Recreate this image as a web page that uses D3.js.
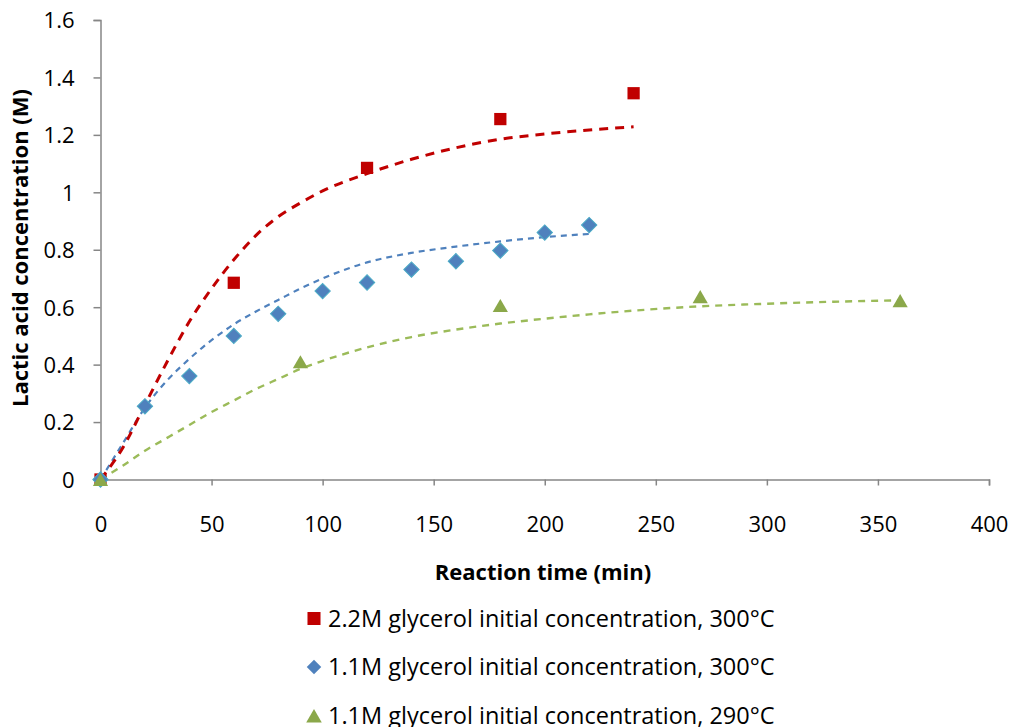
<!DOCTYPE html>
<html>
<head>
<meta charset="utf-8">
<script src="https://cdn.jsdelivr.net/npm/d3@7"></script>
<style>
  body { margin: 0; background: #fff; }
  svg { display: block; font-family: "Open Sans", Lato, sans-serif; }
</style>
</head>
<body>
<svg id="chart" width="1011" height="727"></svg>
<script>
// Measured points (time in min, lactic acid in M)
const redTime = [0, 60, 120, 180, 240];
const redConc = [0, 0.685, 1.085, 1.255, 1.345];

const blueTime = [0, 20, 40, 60, 80, 100, 120, 140, 160, 180, 200, 220];
const blueConc = [0, 0.255, 0.36, 0.5, 0.577, 0.656, 0.686, 0.731, 0.76, 0.797, 0.86, 0.886];

const greenTime = [0, 90, 180, 270, 360];
const greenConc = [0, 0.41, 0.606, 0.637, 0.623];

// Kinetic model curves
const redFitTime = [0, 10, 20, 30, 40, 50, 60, 70, 80, 90, 100, 120, 140, 160, 180, 200, 220, 240];
const redFitConc = [0, 0.11, 0.26, 0.41, 0.55, 0.665, 0.765, 0.85, 0.915, 0.963, 1.005, 1.065, 1.115, 1.155, 1.185, 1.203, 1.217, 1.228];

const blueFitTime = [0, 10, 20, 30, 40, 50, 60, 70, 80, 90, 100, 120, 140, 160, 180, 200, 220];
const blueFitConc = [0, 0.125, 0.25, 0.345, 0.42, 0.485, 0.54, 0.585, 0.625, 0.665, 0.7, 0.756, 0.789, 0.811, 0.829, 0.844, 0.855];

const greenFitTime = [0, 10, 20, 30, 40, 50, 60, 70, 80, 90, 100, 120, 140, 160, 180, 200, 220, 240, 270, 300, 330, 360];
const greenFitConc = [0, 0.048, 0.1, 0.145, 0.19, 0.235, 0.275, 0.315, 0.35, 0.385, 0.413, 0.46, 0.496, 0.522, 0.543, 0.56, 0.575, 0.588, 0.603, 0.612, 0.619, 0.624];

const xTicks = [0, 50, 100, 150, 200, 250, 300, 350, 400];
const yTicks = [0, 0.2, 0.4, 0.6, 0.8, 1, 1.2, 1.4, 1.6];

const legendLabels = [
  "2.2M glycerol initial concentration, 300°C",
  "1.1M glycerol initial concentration, 300°C",
  "1.1M glycerol initial concentration, 290°C"
];

const svg = d3.select("#chart");
const plotLeft = 100.5, plotRight = 989, plotTop = 20, plotBottom = 479.5;

const x = d3.scaleLinear().domain([0, 400]).range([plotLeft, plotRight]);
const y = d3.scaleLinear().domain([0, 1.6]).range([plotBottom, plotTop]);

const axisColor = "#868686";

// Y axis
const yAxis = svg.append("g")
  .attr("transform", `translate(${plotLeft},0)`)
  .call(d3.axisLeft(y).tickValues(yTicks).tickSize(7).tickPadding(19)
    .tickFormat(d => String(+d.toFixed(1))));
// X axis
const xAxis = svg.append("g")
  .attr("transform", `translate(0,${plotBottom})`)
  .call(d3.axisBottom(x).tickValues(xTicks).tickSize(6).tickPadding(31));

[yAxis, xAxis].forEach(g => {
  g.select(".domain").attr("stroke", axisColor).attr("stroke-width", 1.5);
  g.selectAll(".tick line").attr("stroke", axisColor).attr("stroke-width", 1.5);
  g.selectAll(".tick text").attr("fill", "#000").style("font-size", "22px")
    .style("font-family", "'Open Sans', Lato, sans-serif");
});
yAxis.selectAll(".tick text").attr("dy", "0.36em");

// Axis titles
svg.append("text")
  .attr("x", 543).attr("y", 580)
  .attr("text-anchor", "middle")
  .style("font-weight", "bold").style("font-size", "22px")
  .text("Reaction time (min)");

svg.append("text")
  .attr("transform", "translate(28,248) rotate(-90)")
  .attr("text-anchor", "middle")
  .style("font-weight", "bold").style("font-size", "22px")
  .text("Lactic acid concentration (M)");

// Fitted curves
const line = d3.line().x(d => x(d[0])).y(d => y(d[1])).curve(d3.curveMonotoneX);
const zip = (a, b) => a.map((v, i) => [v, b[i]]);

svg.append("path").datum(zip(greenFitTime, greenFitConc))
  .attr("d", line).attr("fill", "none")
  .attr("stroke", "#9BBB59").attr("stroke-width", 2.4).attr("stroke-dasharray", "7,6");
svg.append("path").datum(zip(blueFitTime, blueFitConc))
  .attr("d", line).attr("fill", "none")
  .attr("stroke", "#4F81BD").attr("stroke-width", 2.2).attr("stroke-dasharray", "6,5");
svg.append("path").datum(zip(redFitTime, redFitConc))
  .attr("d", line).attr("fill", "none")
  .attr("stroke", "#C00000").attr("stroke-width", 3).attr("stroke-dasharray", "9,7");

// Markers (triangle glyph is centred on its centroid, so nudge it down to centre its box)
const sq = d3.symbol().type(d3.symbolSquare).size(150);
const dia = d3.symbol().type(d3.symbolSquare).size(118);
const tri = d3.symbol().type(d3.symbolTriangle).size(100);

svg.append("g").selectAll("path").data(zip(redTime, redConc)).join("path")
  .attr("d", sq).attr("transform", d => `translate(${x(d[0])},${y(d[1])})`)
  .attr("fill", "#C00000");
svg.append("g").selectAll("path").data(zip(blueTime, blueConc)).join("path")
  .attr("d", dia).attr("transform", d => `translate(${x(d[0])},${y(d[1])}) rotate(45)`)
  .attr("fill", "#4F81BD").attr("stroke", "#4BACC6").attr("stroke-width", 1);
svg.append("g").selectAll("path").data(zip(greenTime, greenConc)).join("path")
  .attr("d", tri).attr("transform", d => `translate(${x(d[0])},${y(d[1]) + 2.2})`)
  .attr("fill", "#8BA84A");

// Legend
const legendSymbols = [
  d3.symbol().type(d3.symbolSquare).size(170),
  d3.symbol().type(d3.symbolSquare).size(105),
  d3.symbol().type(d3.symbolTriangle).size(105)
];
const legendRotate = [0, 45, 0];
const legendColors = ["#C00000", "#4F81BD", "#8BA84A"];
legendLabels.forEach((lab, i) => {
  const cy = 618.5 + i * 48.5;
  svg.append("path")
    .attr("d", legendSymbols[i])
    .attr("transform", `translate(314,${cy + (i === 2 ? 2.5 : 0)}) rotate(${legendRotate[i]})`)
    .attr("fill", legendColors[i]);
  svg.append("text")
    .attr("x", 328).attr("y", cy + 8)
    .style("font-size", "23.5px")
    .text(lab);
});
</script>
</body>
</html>
